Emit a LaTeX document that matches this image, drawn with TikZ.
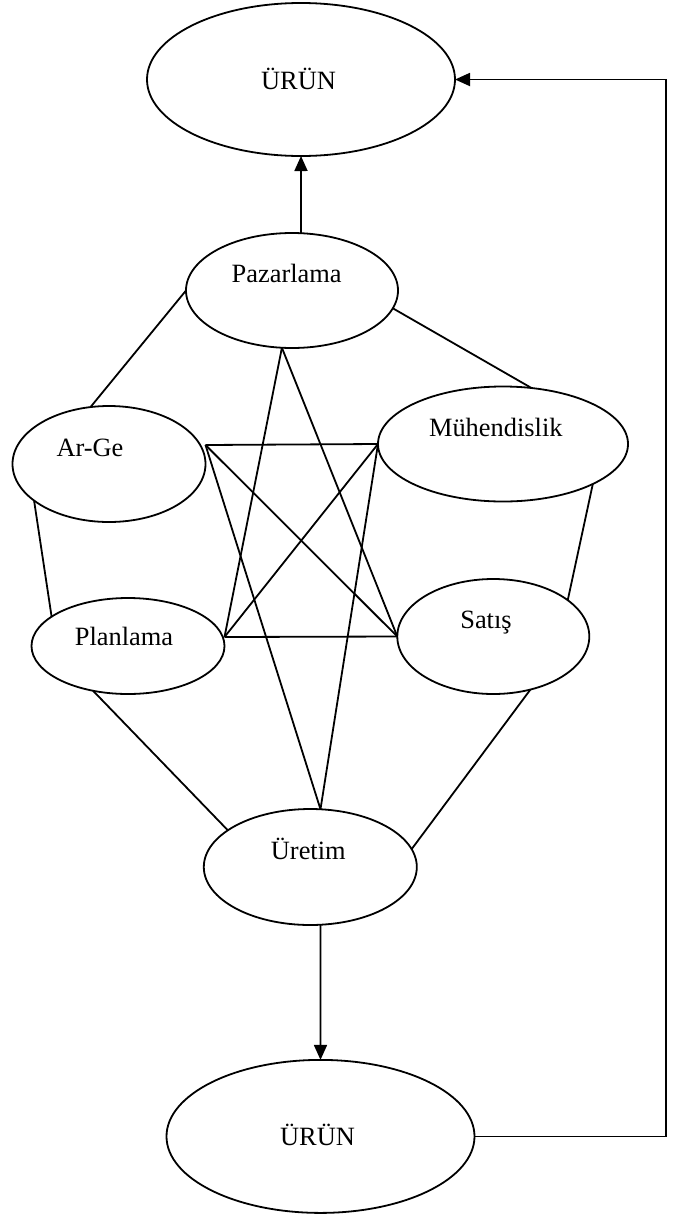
\documentclass[tikz,border=0pt]{standalone}
\usepackage{fontspec}
\setmainfont{Liberation Serif}
\usetikzlibrary{shapes.geometric,arrows.meta,calc}
\begin{document}
\begin{tikzpicture}[x=1pt,y=-1pt,
  oval/.style={draw, ellipse, line width=1.8pt, inner sep=0pt, outer sep=0pt},
  lbl/.style={anchor=base, inner sep=0pt, font=\fontsize{26.4}{30}\selectfont},
  conn/.style={line width=1.8pt},
  arr/.style={conn, -{Triangle[length=15pt,width=13pt]}}]
\useasboundingbox (0,0) rectangle (679,1216);
% ellipses
\node[oval, minimum width=308pt, minimum height=153pt] (top) at (301,79.5) {};
\node[oval, minimum width=212pt, minimum height=115pt] (paz) at (292,290.5) {};
\node[oval, minimum width=193pt, minimum height=116pt] (arge) at (109,464) {};
\node[oval, minimum width=250pt, minimum height=115pt] (muh) at (503,444) {};
\node[oval, minimum width=193pt, minimum height=96pt] (plan) at (128,646) {};
\node[oval, minimum width=192pt, minimum height=115pt] (sat) at (493.3,636.5) {};
\node[oval, minimum width=213pt, minimum height=116pt] (ure) at (310.3,867) {};
\node[oval, minimum width=308pt, minimum height=153pt] (bot) at (320.5,1136.4) {};
% texts
\node[lbl] (topt) at (298.5,89.3) {ÜRÜN};
\node[lbl] (pazt) at (286.7,282.7) {Pazarlama};
\node[lbl] (arget) at (90,456.7) {Ar-Ge};
\node[lbl] (muht) at (495.8,436) {Mühendislik};
\node[lbl] (plant) at (124,645) {Planlama};
\node[lbl] (satt) at (486,628.3) {Satış};
\node[lbl] (uret) at (308.3,859) {Üretim};
\node[lbl] (bott) at (317.5,1145) {ÜRÜN};
% arrows
\draw[arr] (paz.81) -- (top.south);
\draw[arr] (ure.-80.5) -- (bot.north);
\coordinate (rr) at (666,1136.4);
\draw[arr] (bot.east) -- (rr) |- (top.east);
% outer ring
\draw[conn] (paz.west) -- (arge.108);
\draw[conn] (paz.-10) -- (muh.63.2);
\draw[conn] (arge.206.3) -- (plan.159.4);
\draw[conn] (muh.-24.2) -- (sat.26.9);
\draw[conn] (plan.-128.4) -- (ure.156);
\draw[conn] (sat.-55.8) -- (ure.10.1);
% inner star
\draw[conn] ([yshift=19pt]arge.east) -- (muh.west);
\draw[conn] ([yshift=9pt]plan.east) -- (sat.west);
\draw[conn] ([yshift=19pt]arge.east) -- (sat.west);
\draw[conn] ([yshift=9pt]plan.east) -- (muh.west);
\draw[conn] (paz.-100) -- ([yshift=9pt]plan.east);
\draw[conn] (paz.-100) -- (sat.west);
\draw[conn] ([yshift=19pt]arge.east) -- (ure.80.5);
\draw[conn] (muh.west) -- (ure.80.5);
\end{tikzpicture}
\end{document}
